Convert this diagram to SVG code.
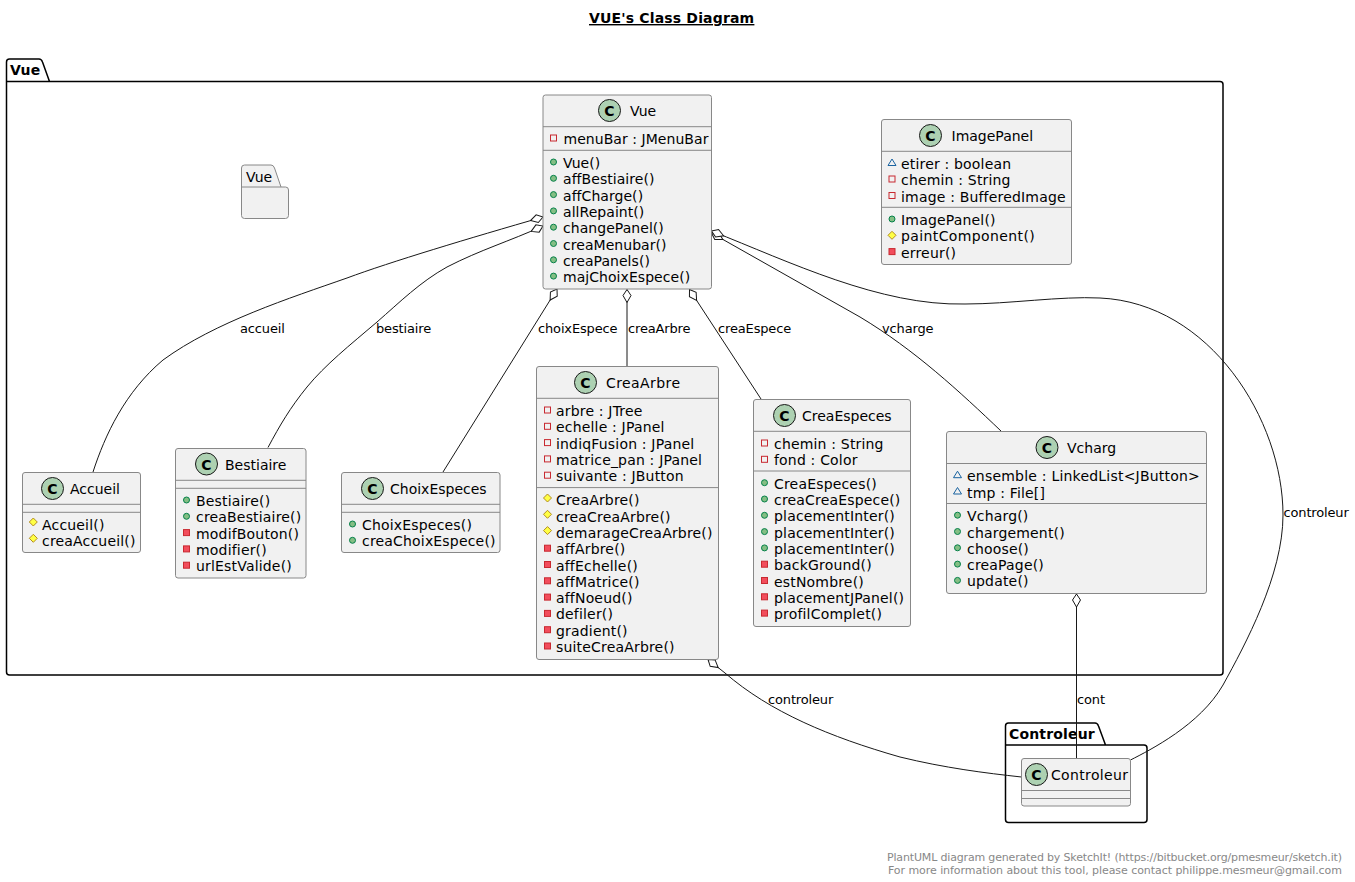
<svg xmlns="http://www.w3.org/2000/svg" width="1355" height="882" viewBox="0 0 1355 882">
<style>
text{font-family:"DejaVu Sans",sans-serif;fill:#000}
.t{font-size:14px;letter-spacing:.18px}
#Vue .t{letter-spacing:.05px}
.n{font-size:14px}
.b{font-size:14px;font-weight:bold;letter-spacing:.17px}
.l{font-size:13px;letter-spacing:-.15px}
.f{font-size:11px;fill:#888;text-anchor:end}
.box{fill:#F1F1F1;stroke:#888;stroke-width:1}
.div{stroke:#888;stroke-width:1}
.pk{fill:none;stroke:#000;stroke-width:1.5}
.c{fill:#ADD1B2;stroke:#181818;stroke-width:1}
.cl{font-size:14px;font-weight:bold;text-anchor:middle;fill:#000}
.cn path{fill:none;stroke:#181818;stroke-width:1}
.ag{marker-start:url(#dia)}
</style>
<defs>
<marker id="dia" markerUnits="userSpaceOnUse" markerWidth="16" markerHeight="10" refX="1" refY="5" orient="auto"><path d="M1,5 L7,1 L14,5 L7,9 Z" fill="#fff" stroke="#181818" stroke-width="1"/></marker>
<circle id="pub" r="3" fill="#84BE84" stroke="#038048"/>
<rect id="pri" x="-3" y="-3" width="6" height="6" fill="#F24D5C" stroke="#C82930"/>
<rect id="prf" x="-3" y="-3" width="6" height="6" fill="none" stroke="#C82930"/>
<path id="pro" d="M0,-4 L4,0 L0,4 L-4,0 Z" fill="#FFFF44" stroke="#B38D22"/>
<path id="pkg" d="M-4,3 L4,3 L0,-3.5 Z" fill="none" stroke="#1963A0"/>
</defs>
<rect width="1355" height="882" fill="#fff"/>
<text id="title" class="b" x="589" y="23" text-decoration="underline">VUE's Class Diagram</text>

<g id="pkg-Vue">
<path class="pk" d="M6.5,81.5 L6.5,62 Q6.5,59 9.5,59 L39,59 Q41.5,59 42.5,62 L49.5,81.5 L1220,81.5 Q1223,81.5 1223,84.5 L1223,672 Q1223,675 1220,675 L9.5,675 Q6.5,675 6.5,672 Z M6.5,81.5 L49.5,81.5"/>
<text class="b" x="10" y="75">Vue</text>
</g>
<g id="pkg-Controleur">
<path class="pk" d="M1005.5,745 L1005.5,726 Q1005.5,723 1008.5,723 L1095,723 Q1097.5,723 1098.5,726 L1105.5,745 L1144,745 Q1147,745 1147,748 L1147,819.5 Q1147,822.5 1144,822.5 L1008.5,822.5 Q1005.5,822.5 1005.5,819.5 Z M1005.5,745 L1105.5,745"/>
<text class="b" x="1009" y="739">Controleur</text>
</g>
<g id="pkg-Vue-inner">
<path class="box" d="M241.5,187 L241.5,168 Q241.5,165 244.5,165 L271,165 Q273.5,165 274.5,168 L281,187 L285.5,187 Q288.5,187 288.5,190 L288.5,215.5 Q288.5,218.5 285.5,218.5 L244.5,218.5 Q241.5,218.5 241.5,215.5 Z M241.5,187 L281,187"/>
<text class="n" x="246" y="182">Vue</text>
</g>

<g id="connectors" class="cn">
<path class="ag" d="M543,217 C470,238 390,262 347,278 C290,298 215,322 163,360 C125,392 105,435 93,472"/>
<path class="ag" d="M543,226 C510,241 480,250 447,267 C420,282 400,302 377,322 C350,345 325,365 307,387 C290,408 280,425 268,447.5"/>
<path class="ag" d="M557,289 L443,472"/>
<path class="ag" d="M627,289.5 L627,366"/>
<path class="ag" d="M689.5,289.5 L761,399"/>
<path class="ag" d="M711.5,233 L860,317 C915,350 960,392 1001,431"/>
<path class="ag" d="M711.5,231 C790,262 880,306 965,304 C1010,304 1060,296 1100,298 C1210,303 1283,420 1283,515 C1283,575 1245,645 1223,685 C1200,725 1150,750 1130.5,760"/>
<path class="ag" d="M708,659.5 L725,673 C770,712 830,737 900,757 C945,768 985,773 1021.5,777"/>
<path class="ag" d="M1076.5,594 L1076.5,758"/>
</g>
<g id="connector-labels">
<text class="l" x="240" y="333">accueil</text>
<text class="l" x="376" y="333">bestiaire</text>
<text class="l" x="538" y="333">choixEspece</text>
<text class="l" x="628" y="333">creaArbre</text>
<text class="l" x="718" y="333">creaEspece</text>
<text class="l" x="882" y="333">vcharge</text>
<text class="l" x="1283.5" y="517">controleur</text>
<text class="l" x="768" y="704">controleur</text>
<text class="l" x="1077" y="704">cont</text>
</g>

<g id="Vue">
<rect class="box" x="543" y="95" width="168.5" height="194" rx="2.5"/>
<path class="div" d="M543,126.7H711.5M543,150.3H711.5"/>
<circle class="c" cx="609.5" cy="110.5" r="11"/><text class="cl" x="609.5" y="116">C</text>
<text class="n" x="630" y="116">Vue</text>
<use href="#prf" x="553.5" y="138"/><text class="t" x="563.5" y="144.4">menuBar : JMenuBar</text>
<use href="#pub" x="553.5" y="162"/><text class="t" x="563" y="168">Vue()</text>
<use href="#pub" x="553.5" y="178.3"/><text class="t" x="563" y="184.3">affBestiaire()</text>
<use href="#pub" x="553.5" y="194.6"/><text class="t" x="563" y="200.6">affCharge()</text>
<use href="#pub" x="553.5" y="210.9"/><text class="t" x="563" y="216.9">allRepaint()</text>
<use href="#pub" x="553.5" y="227.2"/><text class="t" x="563" y="233.2">changePanel()</text>
<use href="#pub" x="553.5" y="243.5"/><text class="t" x="563" y="249.5">creaMenubar()</text>
<use href="#pub" x="553.5" y="259.8"/><text class="t" x="563" y="265.8">creaPanels()</text>
<use href="#pub" x="553.5" y="276.1"/><text class="t" x="563" y="282.1">majChoixEspece()</text>
</g>

<g id="ImagePanel">
<rect class="box" x="881.5" y="119.5" width="190" height="145" rx="2.5"/>
<path class="div" d="M881.5,151.3H1071.5M881.5,207.3H1071.5"/>
<circle class="c" cx="930.5" cy="135.5" r="11"/><text class="cl" x="930.5" y="141">C</text>
<text class="n" x="951.5" y="141">ImagePanel</text>
<use href="#pkg" x="892" y="162.5"/><text class="t" x="901" y="169">etirer : boolean</text>
<use href="#prf" x="892" y="179"/><text class="t" x="901" y="185.3">chemin : String</text>
<use href="#prf" x="892" y="195.5"/><text class="t" x="901" y="201.6">image : BufferedImage</text>
<use href="#pub" x="892" y="219"/><text class="t" x="901" y="225">ImagePanel()</text>
<use href="#pro" x="892" y="235.3"/><text class="t" x="901" y="241.3" textLength="134">paintComponent()</text>
<use href="#pri" x="892" y="251.6"/><text class="t" x="901" y="257.6">erreur()</text>
</g>

<g id="Accueil">
<rect class="box" x="22.5" y="472.5" width="118" height="80" rx="2.5"/>
<path class="div" d="M22.5,504.3H140.5M22.5,512.3H140.5"/>
<circle class="c" cx="52.5" cy="488.5" r="11"/><text class="cl" x="52.5" y="494">C</text>
<text class="n" x="70" y="494">Accueil</text>
<use href="#pro" x="33.3" y="522"/><text class="t" x="42" y="530">Accueil()</text>
<use href="#pro" x="33.3" y="538.3"/><text class="t" x="42" y="546.3">creaAccueil()</text>
</g>

<g id="Bestiaire">
<rect class="box" x="175.5" y="448.5" width="130.5" height="129.5" rx="2.5"/>
<path class="div" d="M175.5,480.3H306M175.5,488.3H306"/>
<circle class="c" cx="206.5" cy="464" r="11"/><text class="cl" x="206.5" y="469.5">C</text>
<text class="n" x="225" y="470">Bestiaire</text>
<use href="#pub" x="186.5" y="500"/><text class="t" x="196" y="506">Bestiaire()</text>
<use href="#pub" x="186.5" y="516.3"/><text class="t" x="196" y="522.3">creaBestiaire()</text>
<use href="#pri" x="186.5" y="532.6"/><text class="t" x="196" y="538.6">modifBouton()</text>
<use href="#pri" x="186.5" y="548.9"/><text class="t" x="196" y="554.9">modifier()</text>
<use href="#pri" x="186.5" y="565.2"/><text class="t" x="196" y="571.2">urlEstValide()</text>
</g>

<g id="ChoixEspeces">
<rect class="box" x="341.5" y="472.5" width="158.5" height="80" rx="2.5"/>
<path class="div" d="M341.5,504.3H500M341.5,512.3H500"/>
<circle class="c" cx="372.5" cy="488.5" r="11"/><text class="cl" x="372.5" y="494">C</text>
<text class="n" x="390" y="494">ChoixEspeces</text>
<use href="#pub" x="352.5" y="524"/><text class="t" x="362" y="530">ChoixEspeces()</text>
<use href="#pub" x="352.5" y="540.3"/><text class="t" x="362" y="546.3">creaChoixEspece()</text>
</g>

<g id="CreaArbre">
<rect class="box" x="536.5" y="366.5" width="182" height="293" rx="2.5"/>
<path class="div" d="M536.5,398.3H718.5M536.5,487.6H718.5"/>
<circle class="c" cx="585.5" cy="382.5" r="11"/><text class="cl" x="585.5" y="388">C</text>
<text class="n" x="606" y="388" textLength="74">CreaArbre</text>
<use href="#prf" x="547.5" y="410"/><text class="t" x="556" y="416">arbre : JTree</text>
<use href="#prf" x="547.5" y="426.3"/><text class="t" x="556" y="432.3">echelle : JPanel</text>
<use href="#prf" x="547.5" y="442.6"/><text class="t" x="556" y="448.6">indiqFusion : JPanel</text>
<use href="#prf" x="547.5" y="458.9"/><text class="t" x="556" y="464.9">matrice_pan : JPanel</text>
<use href="#prf" x="547.5" y="475.2"/><text class="t" x="556" y="481.2">suivante : JButton</text>
<use href="#pro" x="547.5" y="498"/><text class="t" x="556" y="505.3">CreaArbre()</text>
<use href="#pro" x="547.5" y="514.3"/><text class="t" x="556" y="521.6">creaCreaArbre()</text>
<use href="#pro" x="547.5" y="530.6"/><text class="t" x="556" y="537.9">demarageCreaArbre()</text>
<use href="#pri" x="547.5" y="548.2"/><text class="t" x="556" y="554.2">affArbre()</text>
<use href="#pri" x="547.5" y="564.5"/><text class="t" x="556" y="570.5">affEchelle()</text>
<use href="#pri" x="547.5" y="580.8"/><text class="t" x="556" y="586.8">affMatrice()</text>
<use href="#pri" x="547.5" y="597.1"/><text class="t" x="556" y="603.1">affNoeud()</text>
<use href="#pri" x="547.5" y="613.4"/><text class="t" x="556" y="619.4">defiler()</text>
<use href="#pri" x="547.5" y="629.7"/><text class="t" x="556" y="635.7">gradient()</text>
<use href="#pri" x="547.5" y="646"/><text class="t" x="556" y="652">suiteCreaArbre()</text>
</g>

<g id="CreaEspeces">
<rect class="box" x="753.5" y="399.5" width="157" height="227" rx="2.5"/>
<path class="div" d="M753.5,431.3H910.5M753.5,471H910.5"/>
<circle class="c" cx="784.5" cy="415.5" r="11"/><text class="cl" x="784.5" y="421">C</text>
<text class="n" x="802" y="421">CreaEspeces</text>
<use href="#prf" x="764.5" y="443"/><text class="t" x="774" y="449">chemin : String</text>
<use href="#prf" x="764.5" y="459.3"/><text class="t" x="774" y="465.3">fond : Color</text>
<use href="#pub" x="764.5" y="482.7"/><text class="t" x="774" y="488.7">CreaEspeces()</text>
<use href="#pub" x="764.5" y="499"/><text class="t" x="774" y="505">creaCreaEspece()</text>
<use href="#pub" x="764.5" y="515.3"/><text class="t" x="774" y="521.3">placementInter()</text>
<use href="#pub" x="764.5" y="531.6"/><text class="t" x="774" y="537.6">placementInter()</text>
<use href="#pub" x="764.5" y="547.9"/><text class="t" x="774" y="553.9">placementInter()</text>
<use href="#pri" x="764.5" y="564.2"/><text class="t" x="774" y="570.2">backGround()</text>
<use href="#pri" x="764.5" y="580.5"/><text class="t" x="774" y="586.5">estNombre()</text>
<use href="#pri" x="764.5" y="596.8"/><text class="t" x="774" y="602.8">placementJPanel()</text>
<use href="#pri" x="764.5" y="613.1"/><text class="t" x="774" y="619.1">profilComplet()</text>
</g>

<g id="Vcharg">
<rect class="box" x="946.5" y="431.5" width="260" height="162" rx="2.5"/>
<path class="div" d="M946.5,463.5H1206.5M946.5,503.5H1206.5"/>
<circle class="c" cx="1047" cy="447.5" r="11"/><text class="cl" x="1047" y="453">C</text>
<text class="n" x="1067" y="453">Vcharg</text>
<use href="#pkg" x="957.5" y="474.7"/><text class="t" x="967" y="481.2" textLength="233">ensemble : LinkedList&lt;JButton&gt;</text>
<use href="#pkg" x="957.5" y="491"/><text class="t" x="967" y="497.5">tmp : File[]</text>
<use href="#pub" x="957.5" y="515.2"/><text class="t" x="967" y="521.2">Vcharg()</text>
<use href="#pub" x="957.5" y="531.5"/><text class="t" x="967" y="537.5">chargement()</text>
<use href="#pub" x="957.5" y="547.8"/><text class="t" x="967" y="553.8">choose()</text>
<use href="#pub" x="957.5" y="564.1"/><text class="t" x="967" y="570.1">creaPage()</text>
<use href="#pub" x="957.5" y="580.4"/><text class="t" x="967" y="586.4">update()</text>
</g>

<g id="Controleur">
<rect class="box" x="1021.5" y="758.5" width="109" height="47.5" rx="2.5"/>
<path class="div" d="M1021.5,790.5H1130.5M1021.5,798.5H1130.5"/>
<circle class="c" cx="1036.5" cy="774.5" r="11"/><text class="cl" x="1036.5" y="780">C</text>
<text class="n" x="1051" y="780" textLength="77">Controleur</text>
</g>

<g id="footer">
<text class="f" x="1342" y="861" textLength="455">PlantUML diagram generated by SketchIt! (https://bitbucket.org/pmesmeur/sketch.it)</text>
<text class="f" x="1342" y="874" textLength="454">For more information about this tool, please contact philippe.mesmeur@gmail.com</text>
</g>
</svg>
